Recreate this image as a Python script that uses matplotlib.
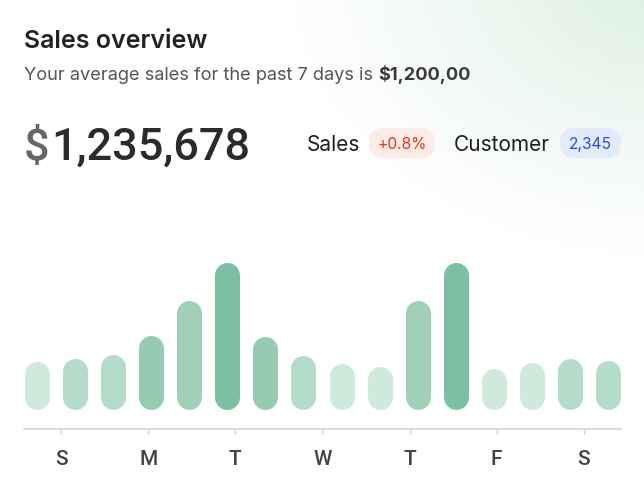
import numpy as np
import matplotlib
matplotlib.use("Agg")
import matplotlib.pyplot as plt
from matplotlib.patches import FancyBboxPatch

# data
bar_values = [48, 51, 55, 74, 109, 147, 73, 54, 46, 43, 109, 147, 41, 47, 51, 49]
day_labels = ["S", "M", "T", "W", "T", "F", "S"]
total_sales = "1,235,678"
avg_sales = "1,200,00"
sales_change = "+0.8%"
customers = "2,345"

# style: shade per bar
LIGHT, MIDLIGHT, MID, MIDDARK, DARK = "#d0e9dd", "#b5dcca", "#a0d0b8", "#97cbb1", "#7dbfa2"
bar_shades = [LIGHT, MIDLIGHT, MIDLIGHT, MIDDARK, MID, DARK, MIDDARK, MIDLIGHT,
              LIGHT, LIGHT, MID, DARK, LIGHT, LIGHT, MIDLIGHT, MIDLIGHT]

plt.rcParams['font.family'] = ['Inter', 'DejaVu Sans']
NUM_FONT = ['Roboto', 'DejaVu Sans']

W, H = 644, 494
fig = plt.figure(figsize=(W / 100, H / 100), dpi=100)
fig.patch.set_facecolor("white")

# background axes in pixel coords (gradient, header texts, badges)
bg = fig.add_axes([0, 0, 1, 1])
bg.set_xlim(0, W)
bg.set_ylim(H, 0)
bg.axis("off")

yy, xx = np.mgrid[0:H, 0:W]
d = np.sqrt(((xx - W - 20) / 380.0) ** 2 + ((yy + 30) / 290.0) ** 2)
a = np.clip(1 - d, 0, 1) ** 1.1
glow = np.ones((H, W, 4))
glow[..., 0] = 0xd6 / 255
glow[..., 1] = 0xed / 255
glow[..., 2] = 0xde / 255
glow[..., 3] = a * 0.9
bg.imshow(glow, extent=(0, W, H, 0), zorder=0, interpolation="bilinear")

bg.text(24, 48, "Sales overview", fontsize=18, fontweight="semibold",
        color="#222222", va="baseline", ha="left")
t1 = bg.text(24, 80, "Your average sales for the past 7 days is ", fontsize=13.1,
             color="#555555", va="baseline", ha="left")
bg.annotate(r"\$" + avg_sales, xy=(1, 0), xycoords=t1, va="bottom", ha="left",
            fontsize=13.1, fontweight="bold", color="#3a3a3a")

t2 = bg.text(24, 160, r"\$", fontsize=32.5, fontweight="medium", color="#666666",
             va="baseline", ha="left", family=NUM_FONT)
bg.annotate(total_sales, xy=(1, 0), xycoords=t2, xytext=(1.5, 0),
            textcoords="offset points", va="bottom", ha="left",
            fontsize=32.5, fontweight="medium", color="#2b2b2b", family=NUM_FONT)

bg.text(307, 151, "Sales", fontsize=15, color="#1f1f1f", va="baseline", ha="left")
bg.text(454, 151, "Customer", fontsize=15, color="#1f1f1f", va="baseline", ha="left")


def badge(x0, x1, y0, y1, txt, fc, tc):
    h = y1 - y0
    bg.add_patch(FancyBboxPatch((x0, y0), x1 - x0, h,
                                boxstyle=f"round,pad=0,rounding_size={h / 2}",
                                fc=fc, ec="none", zorder=2))
    bg.text((x0 + x1) / 2, y0 + h / 2 + 1, txt, fontsize=11.2, color=tc,
            ha="center", va="center", zorder=3)


badge(369, 435, 128, 158, sales_change, "#fdebe7", "#e0391b")
badge(560, 621, 128, 158, customers, "#e3eaf9", "#2552d8")

# bar chart axes: 1 y-unit = 1 pixel
n = len(bar_values)
slot = 38.1
left_px = 36.7 - slot / 2
ax_bottom_px = 429.3
ax_top_px = 240
ax = fig.add_axes([left_px / W, (H - ax_bottom_px) / H,
                   n * slot / W, (ax_bottom_px - ax_top_px) / H])
ax.set_xlim(-0.5, n - 0.5)
ax.set_ylim(-20, ax_bottom_px - ax_top_px - 20)
ax.patch.set_alpha(0)

bar_w_px = 25
r = bar_w_px / 2
x = np.arange(n)
for xi, v, c in zip(x, bar_values, bar_shades):
    ax.plot([xi, xi], [r, v - r], color=c, lw=bar_w_px * 0.72,
            solid_capstyle="round", zorder=2)

for s in ["top", "right", "left"]:
    ax.spines[s].set_visible(False)
ax.spines["bottom"].set_color("#d9d9d9")
ax.spines["bottom"].set_linewidth(1.3)
ax.spines["bottom"].set_bounds(-1 / 3, n - 1 + 1 / 3)

tick_pos = [-0.5 + (i + 0.5) * n / len(day_labels) for i in range(len(day_labels))]
ax.set_xticks(tick_pos)
ax.set_xticklabels(day_labels)
ax.set_yticks([])
ax.tick_params(axis="x", length=3.6, width=1, color="#d3d3d3", pad=11,
               labelsize=15, labelcolor="#444444")
for lab in ax.get_xticklabels():
    lab.set_family(NUM_FONT)
    lab.set_fontweight("medium")

fig.savefig("out.png", dpi=100)
